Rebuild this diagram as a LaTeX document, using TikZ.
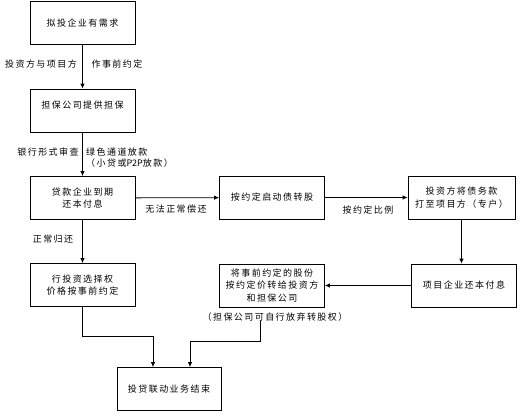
\documentclass[tikz,border=0pt]{standalone}
\usepackage{fontspec}
\newfontfamily\cjk{Noto Sans CJK SC}[LetterSpace=16]
\newfontfamily\cjkplain{Noto Sans CJK SC}
\usepackage{tikz}
\usetikzlibrary{arrows.meta}

\begin{document}
\begin{tikzpicture}[
  x=1pt,y=-1pt,
  box/.style={draw,line width=0.8pt,align=center,minimum height=43pt,minimum width=105pt,inner sep=0pt,font=\cjk\fontsize{9}{12.5}\selectfont},
  lbl/.style={inner sep=0pt,align=left,font=\cjk\fontsize{9}{11}\selectfont},
  arrow/.style={-{Latex[length=5pt,width=4.5pt]},line width=0.8pt}
]
\useasboundingbox (0,0) rectangle (529,415);

% left column
\node[box] (need) at (82.5,23) {拟投企业有需求};
\node[box] (guar) at (82.5,110.5) {担保公司提供担保\\~};
\node[box] (loan) at (82.5,198) {贷款企业到期\\还本付息};
\node[box] (option) at (82.5,285) {行投资选择权\\价格按事前约定};

% middle and right
\node[box] (swap) at (272,197.5) {按约定启动债转股};
\node[box,minimum width=107pt] (pay) at (461.5,197.5) {投资方将债务款\\打至项目方（专户）};
\node[box] (repay) at (464,285.5) {项目企业还本付息};
\node[box] (transfer) at (272,285.5) {将事前约定的股份\\按约定价转给投资方\\和担保公司};
\node[box,minimum width=104pt] (finish) at (169,389) {投贷联动业务结束};

% labels
\node[lbl] (l1) at (41,64) {投资方与项目方};
\node[lbl] (l2) at (117,64) {作事前约定};
\node[lbl] (l3) at (48,152) {银行形式审查};
\node[lbl,anchor=west] (l4) at (86,157.5) {绿色通道放款\\（小贷或{\cjkplain P2P}放款）};
\node[lbl] (l5) at (53,239) {正常归还};
\node[lbl] (l6) at (176,209) {无法正常偿还};
\node[lbl] (l7) at (368,210) {按约定比例};
\node[lbl] (l8) at (275,317) {（担保公司可自行放弃转股权）};

% connectors
\draw[arrow] (need) -- (guar);
\draw[arrow] (guar) -- (loan);
\draw[arrow] (loan) -- (option);
\draw[arrow] (loan) -- (swap);
\draw[arrow] (swap) -- (pay);
\draw[arrow] (pay.south) -- (pay.south |- repay.north);
\draw[arrow] (repay.west) -- (transfer.east |- repay.west);
\draw[arrow] (option.south) -- ++(0,29) -| ([xshift=-16pt]finish.north);
\draw[arrow] ([xshift=-12pt]transfer.south |- l8.south) -- ++(0,20) -| ([xshift=21pt]finish.north);
\end{tikzpicture}
\end{document}
